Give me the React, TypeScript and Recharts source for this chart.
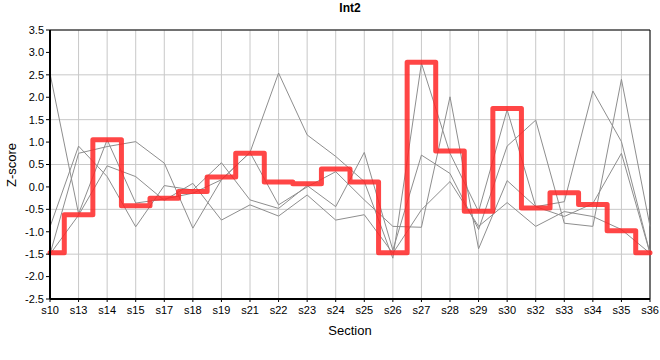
import { LineChart, Line, XAxis, YAxis, CartesianGrid, ReferenceLine, Label } from 'recharts'

const sections = ['s10', 's13', 's14', 's15', 's17', 's18', 's19', 's21', 's22', 's23', 's24', 's25', 's26', 's27', 's28', 's29', 's30', 's32', 's33', 's34', 's35', 's36']

// highlighted series (drawn as a step line)
const int2 = [-1.47, -0.62, 1.05, -0.42, -0.25, -0.1, 0.22, 0.75, 0.11, 0.07, 0.4, 0.11, -1.47, 2.78, 0.8, -0.54, 1.75, -0.47, -0.13, -0.39, -0.98, -1.47]

// the other series, thin grey
const other1 = [2.53, -0.6, 1.05, -0.36, -0.27, -0.14, 0.16, 0.77, 2.54, 1.16, 0.68, 0.12, -1.59, 2.76, 0.75, -0.55, 1.72, -0.44, -0.33, 2.14, 1.01, -1.48]
const other2 = [-0.89, 0.91, 0.23, -0.89, 0.03, -0.07, 0.54, -0.29, -0.48, 0.03, -0.44, 0.77, -1.41, 0.71, 0.3, -0.95, 0.91, 1.49, -0.81, -0.88, 2.4, -0.88]
const other3 = [-1.5, 0.75, 0.9, 1.01, 0.53, -0.92, 0.16, 0.77, -0.4, 0.0, 0.34, -0.29, -0.88, -0.9, 2.01, -1.38, 0.14, -0.44, -0.66, -0.37, 0.75, -1.48]
const other4 = [-1.5, -0.63, 0.47, 0.23, -0.3, 0.08, -0.74, -0.4, -0.65, -0.18, -0.74, -0.62, -1.48, -0.51, 0.12, -0.88, -0.35, -0.88, -0.55, -0.66, -0.95, -1.48]

const yTicks = [-2.5, -2, -1.5, -1, -0.5, 0, 0.5, 1, 1.5, 2, 2.5, 3, 3.5]

const data = sections.map((s, i) => ({
  section: s,
  int2: int2[i],
  o1: other1[i],
  o2: other2[i],
  o3: other3[i],
  o4: other4[i],
}))

const font = '"Liberation Sans", Arial, sans-serif'
const greys = ['o1', 'o2', 'o3', 'o4']

export default function App() {
  return (
    <div style={{ position: 'absolute', left: 0, top: 0, width: 660, height: 360, background: '#fff' }}>
      <div style={{
        position: 'absolute',
        left: 50,
        top: 1,
        width: 600,
        textAlign: 'center',
        fontFamily: font,
        fontWeight: 'bold',
        fontSize: 12,
      }}>
        Int2
      </div>
      <LineChart width={660} height={360} data={data} margin={{ top: 30, right: 10, left: 0, bottom: 31 }}>
        <CartesianGrid stroke="#c8c8c8" strokeWidth={1} />
        <XAxis
          dataKey="section"
          scale="point"
          height={30}
          padding={{ left: 0, right: 0 }}
          interval={0}
          tickSize={3}
          tickMargin={4}
          tick={{ fontSize: 11, fontFamily: font, fill: '#000' }}
          tickLine={{ stroke: '#000' }}
          axisLine={{ stroke: '#000', strokeWidth: 2 }}
        >
          <Label
            content={() => (
              <text x={350} y={335} textAnchor="middle" fontSize={13} fontFamily={font} fill="#000">Section</text>
            )}
          />
        </XAxis>
        <YAxis
          width={50}
          domain={[-2.5, 3.5]}
          ticks={yTicks}
          allowDataOverflow
          tickFormatter={(v: number) => v.toFixed(1)}
          tickSize={4}
          tickMargin={2}
          tick={{ fontSize: 11, fontFamily: font, fill: '#000' }}
          tickLine={{ stroke: '#000' }}
          axisLine={{ stroke: '#000', strokeWidth: 2 }}
        >
          <Label
            content={() => (
              <text x={16} y={165} transform="rotate(-90 16 165)" textAnchor="middle" fontSize={13} fontFamily={font} fill="#000">Z-score</text>
            )}
          />
        </YAxis>
        <ReferenceLine y={3.5} stroke="#000" strokeWidth={1} />
        <ReferenceLine x="s36" stroke="#000" strokeWidth={1} />
        {greys.map((k) => (
          <Line
            key={k}
            dataKey={k}
            type="linear"
            stroke="#8e8e8e"
            strokeWidth={1}
            dot={false}
            activeDot={false}
            isAnimationActive={false}
          />
        ))}
        <Line
          dataKey="int2"
          type="step"
          stroke="#ff2626"
          strokeOpacity={0.85}
          strokeWidth={5}
          strokeLinejoin="round"
          strokeLinecap="round"
          dot={false}
          activeDot={false}
          isAnimationActive={false}
        />
      </LineChart>
    </div>
  )
}
